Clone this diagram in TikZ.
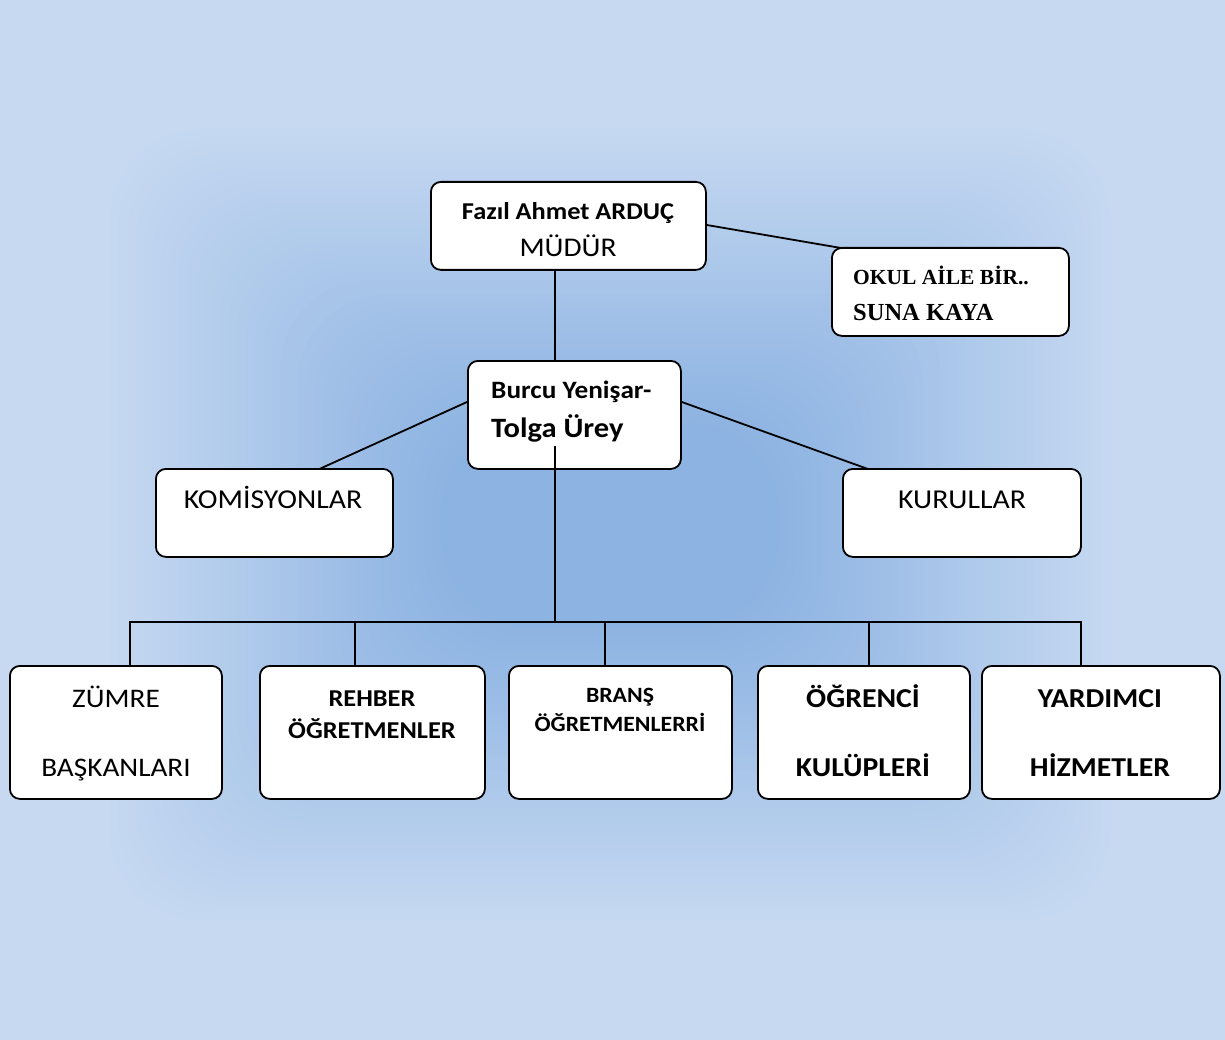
\documentclass[tikz,border=0pt]{standalone}
\usepackage{fontspec}
\setmainfont{Carlito}
\newfontfamily\timesf{Liberation Serif}
\usetikzlibrary{calc}
\definecolor{bgedge}{HTML}{C6D9F1}
\definecolor{bgcenter}{HTML}{8DB3E2}
\pgfdeclarelayer{bgl}
\pgfdeclarelayer{lines}
\pgfsetlayers{bgl,lines,main}
\begin{document}
\begin{tikzpicture}[x=1pt,y=-1pt,
  box/.style={draw=black, line width=1.8pt, fill=white, rounded corners=10pt, anchor=north west, inner sep=0pt},
  conn/.style={draw=black, line width=1.8pt},
  txt/.style={inner sep=0pt, anchor=base, xscale=1.09},
  txtl/.style={inner sep=0pt, anchor=base west},
  fn/.style={font=\fontsize{#1}{#1}\selectfont},
  fb/.style={font=\fontsize{#1}{#1}\selectfont\bfseries}]
\useasboundingbox (0,0) rectangle (1225,1040);
\begin{pgfonlayer}{bgl}
  \fill[bgedge] (0,0) rectangle (1225,1040);
  \foreach \i in {0,...,39} {
    \pgfmathsetmacro\pc{2.5*(\i+1)}
    \fill[bgcenter!\pc!bgedge, rounded corners=90pt] (110+8.5*\i,130+7.5*\i) rectangle (1110-8.5*\i,920-7.5*\i);
  }
\end{pgfonlayer}
% boxes
\node[box, minimum width=275pt, minimum height=88pt] (mudur) at (430,181) {};
\node[box, minimum width=237pt, minimum height=88pt] (okul) at (831,247) {};
\node[box, minimum width=213pt, minimum height=108pt] (burcu) at (467,360) {};
\node[box, minimum width=237pt, minimum height=88pt] (komis) at (155,468) {};
\node[box, minimum width=238pt, minimum height=88pt] (kurul) at (842,468) {};
\node[box, minimum width=212pt, minimum height=133pt] (zumre) at (9,665) {};
\node[box, minimum width=225pt, minimum height=133pt] (rehber) at (259,665) {};
\node[box, minimum width=223pt, minimum height=133pt] (brans) at (508,665) {};
\node[box, minimum width=212pt, minimum height=133pt] (ogrenci) at (757,665) {};
\node[box, minimum width=238pt, minimum height=133pt] (yard) at (981,665) {};
% connectors
\coordinate (vx) at (555,0);
\coordinate (bus) at (0,622);
\coordinate (cstart) at (555,446);
\begin{pgfonlayer}{lines}
  \draw[conn] (vx |- mudur.south) -- (vx |- burcu.north);
  \draw[conn] ($(mudur.north east)+(0,44)$) -- ($(okul.north west)+(10,1)$);
  \draw[conn] ($(burcu.north west)+(0,42)$) -- ($(komis.north)+(45,1)$);
  \draw[conn] ($(burcu.north east)+(0,42)$) -- ($(kurul.north)+(-94,1)$);
\end{pgfonlayer}
\draw[conn] (cstart) -- (cstart |- bus);
\draw[conn] (zumre.north -| 130,0) |- (bus -| 130,0) -- (bus -| 1081,0) -- (yard.north -| 1081,0);
\draw[conn] (bus -| 355,0) -- (rehber.north -| 355,0);
\draw[conn] (bus -| 605,0) -- (brans.north -| 605,0);
\draw[conn] (bus -| 869,0) -- (ogrenci.north -| 869,0);
% texts
\node[txt, fb=24.2] (t1) at (568,220) {Fazıl Ahmet ARDUÇ};
\node[txt, fn=27] (t2) at (568,257) {MÜDÜR};
\node[txtl, font=\timesf\fontsize{21.5}{21.5}\selectfont\bfseries] (t3) at (853,285) {OKUL AİLE BİR..};
\node[txtl, font=\timesf\fontsize{24.5}{24.5}\selectfont\bfseries] (t4) at (853,320) {SUNA KAYA};
\node[txtl, xscale=1.09, fb=25] (t5) at (491,398) {Burcu Yenişar-};
\node[txtl, xscale=1.09, fb=28] (t6) at (491,437) {Tolga Ürey};
\node[txt, fn=27.3] (t7) at (273,508) {KOMİSYONLAR};
\node[txt, fn=27.3] (t8) at (962,508) {KURULLAR};
\node[txt, fn=26.8] (t9) at (116,707) {ZÜMRE};
\node[txt, fn=26.8] (t10) at (116,776) {BAŞKANLARI};
\node[txt, fb=24.2] (t11) at (372,706) {REHBER};
\node[txt, fb=24.2] (t12) at (372,738) {ÖĞRETMENLER};
\node[txt, fb=21.8] (t13) at (620,702) {BRANŞ};
\node[txt, fb=21.8] (t14) at (620,731) {ÖĞRETMENLERRİ};
\node[txt, fb=27.3] (t15) at (863,707) {ÖĞRENCİ};
\node[txt, fb=27.3] (t16) at (863,776) {KULÜPLERİ};
\node[txt, fb=27.3] (t17) at (1100,707) {YARDIMCI};
\node[txt, fb=27.3] (t18) at (1100,776) {HİZMETLER};
\end{tikzpicture}
\end{document}
